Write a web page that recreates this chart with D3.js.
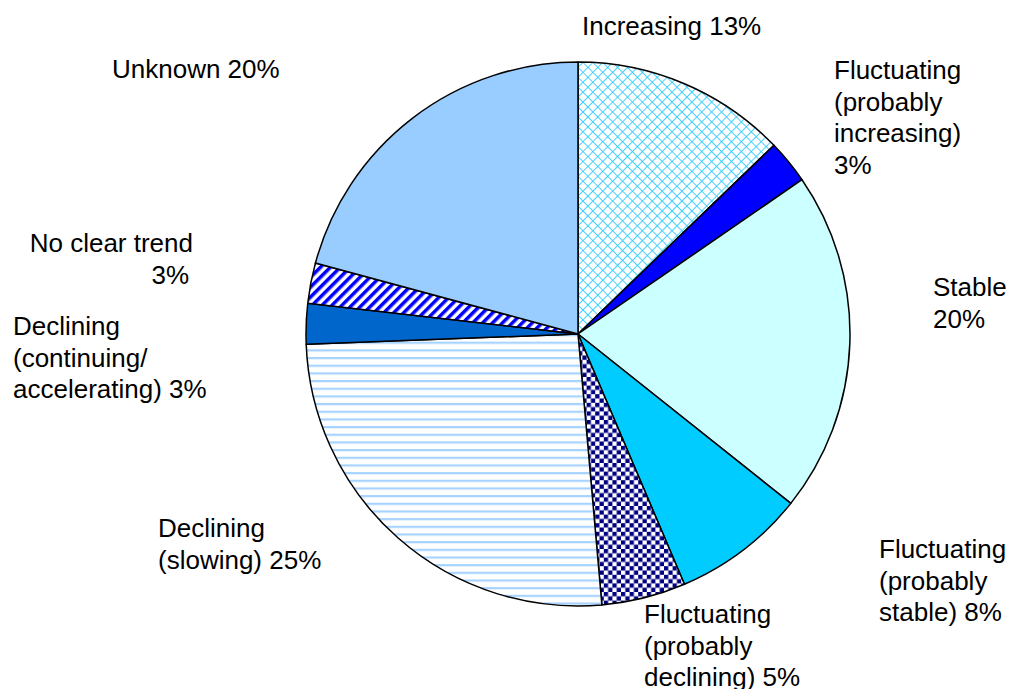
<!DOCTYPE html>
<html><head><meta charset="utf-8">
<script src="https://cdn.jsdelivr.net/npm/d3@7"></script>
<style>body{margin:0;background:#fff}svg{display:block}</style>
</head><body>
<svg id="c" width="1010" height="689"></svg>
<script>
const categories = ["Increasing","Fluctuating (probably increasing)","Stable","Fluctuating (probably stable)","Fluctuating (probably declining)","Declining (slowing)","Declining (continuing/accelerating)","No clear trend","Unknown"];
const values = [12.8, 2.6, 20.3, 7.9, 5.0, 25.8, 2.4, 2.4, 20.8];
const labelLines = [
  ["Increasing 13%"],
  ["Fluctuating","(probably","increasing)","3%"],
  ["Stable","20%"],
  ["Fluctuating","(probably","stable) 8%"],
  ["Fluctuating","(probably","declining) 5%"],
  ["Declining","(slowing) 25%"],
  ["Declining","(continuing/","accelerating) 3%"],
  ["No clear trend","3%"],
  ["Unknown 20%"]
];
const fills = ["url(#pCross)","#0000ff","#ccffff","#00ccff","url(#pCheck)","url(#pHoriz)","#0066cc","url(#pDiag)","#99ccff"];
// label layout: x, first baseline, anchor
const labelPos = [
  {x:582,y:35,a:"start"},
  {x:834,y:79,a:"start"},
  {x:933,y:296,a:"start"},
  {x:879,y:558,a:"start"},
  {x:644,y:623,a:"start"},
  {x:158,y:537,a:"start"},
  {x:13,y:335,a:"start"},
  {x:193,y:252,a:"end"},
  {x:112,y:78,a:"start"}
];
const lineH = 31.5;

const svg = d3.select("#c");
const defs = svg.append("defs");
// crosshatch
const cs = 7;
let p = defs.append("pattern").attr("id","pCross").attr("patternUnits","userSpaceOnUse")
  .attr("width",cs).attr("height",cs).attr("patternTransform","rotate(45)");
p.append("rect").attr("width",cs).attr("height",cs).attr("fill","#fff");
p.append("line").attr("x1",0).attr("y1",0).attr("x2",0).attr("y2",cs).attr("stroke","#33ccff").attr("stroke-width",1.8);
p.append("line").attr("x1",0).attr("y1",0).attr("x2",cs).attr("y2",0).attr("stroke","#33ccff").attr("stroke-width",1.8);
// checker
p = defs.append("pattern").attr("id","pCheck").attr("patternUnits","userSpaceOnUse").attr("width",8.6).attr("height",8.6);
p.append("rect").attr("width",8.6).attr("height",8.6).attr("fill","#fff");
p.append("rect").attr("width",4.3).attr("height",4.3).attr("fill","#000080");
p.append("rect").attr("x",4.3).attr("y",4.3).attr("width",4.3).attr("height",4.3).attr("fill","#000080");
// horizontal stripes
p = defs.append("pattern").attr("id","pHoriz").attr("patternUnits","userSpaceOnUse").attr("width",8).attr("height",7.67);
p.append("rect").attr("width",8).attr("height",7.67).attr("fill","#fff");
p.append("rect").attr("y",0).attr("width",8).attr("height",2.2).attr("fill","#a6d3ff");
// diagonal stripes
p = defs.append("pattern").attr("id","pDiag").attr("patternUnits","userSpaceOnUse")
  .attr("width",7).attr("height",7).attr("patternTransform","rotate(45)");
p.append("rect").attr("width",7).attr("height",7).attr("fill","#fff");
p.append("rect").attr("width",3.5).attr("height",7).attr("fill","#0000ff");

const cx = 578, cy = 334, R = 272;
const pie = d3.pie().sort(null).value(d => d).startAngle(0).endAngle(2*Math.PI);
const arc = d3.arc().innerRadius(0).outerRadius(R);
const g = svg.append("g").attr("transform",`translate(${cx},${cy})`);
g.selectAll("path").data(pie(values)).join("path")
  .attr("d",arc)
  .attr("fill",(d,i)=>fills[i])
  .attr("stroke","#000").attr("stroke-width",1.5).attr("stroke-linejoin","round");

const lg = svg.append("g").attr("font-family","Liberation Sans, Arial, sans-serif").attr("font-size",26).attr("fill","#000");
labelLines.forEach((lines,i)=>{
  const pos = labelPos[i];
  const t = lg.append("text").attr("text-anchor",pos.a);
  lines.forEach((s,j)=>{
    t.append("tspan").attr("x", (i===7 && j===1) ? pos.x-4 : pos.x).attr("y",pos.y + j*lineH).text(s);
  });
});
</script>
</body></html>
